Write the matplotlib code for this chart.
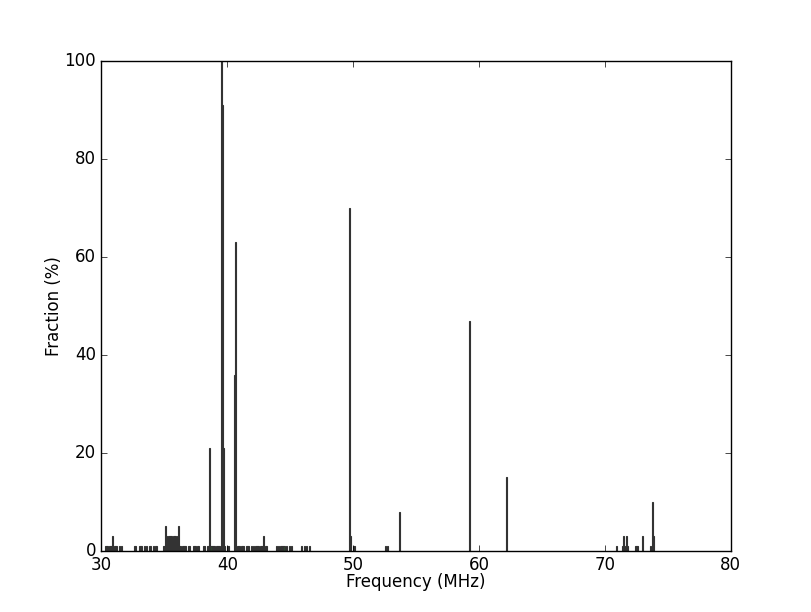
import matplotlib
matplotlib.use("Agg")
import matplotlib.pyplot as plt

# === Data ===
freqs = [
    30.3, 30.4, 30.5, 30.6, 30.7, 30.8, 30.9, 31.0, 31.1, 31.2, 31.4, 31.6,
    32.6, 32.7, 33.0, 33.1, 33.2, 33.4, 33.6, 33.8, 33.9, 34.1, 34.3, 34.4,
    34.9, 35.0, 35.1, 35.2, 35.3, 35.4, 35.5, 35.6, 35.7, 35.8, 35.9, 36.0,
    36.1, 36.2, 36.3,
    36.4, 36.5, 36.6, 36.7, 36.9, 37.0, 37.3, 37.4, 37.5, 37.6, 37.7, 38.1,
    38.2, 38.4, 38.5, 38.6,
    38.7, 38.8, 38.9, 39.0, 39.1, 39.2, 39.3, 39.4, 39.5, 39.6, 39.7,
    39.8, 40.0, 40.1, 40.6, 40.65,
    40.8, 40.9, 41.0, 41.1, 41.2, 41.3, 41.5, 41.6, 41.7, 41.9, 42.1, 42.2,
    42.3, 42.4, 42.5, 42.6, 42.7, 42.8, 42.9, 43.0, 43.1,
    43.9, 44.1, 44.2, 44.3, 44.4, 44.5, 44.7, 44.9, 45.1,
    45.9, 46.1, 46.3, 46.5,
    49.72, 49.82, 50.0, 50.1, 52.6, 52.7, 53.7,
    59.25, 62.2,
    70.9, 71.4, 71.5, 71.6, 71.7, 71.8, 72.4, 72.5, 72.6, 73.0,
    73.6, 73.75, 73.85,
]
fractions = [
    1, 1, 1, 1, 1, 1, 3, 1, 1, 1, 1, 1,
    1, 1, 1, 1, 1, 1, 1, 1, 1, 1, 1, 1,
    1, 1, 5, 3, 3, 3, 3, 3, 3, 3, 3, 3,
    5, 1, 1,
    1, 1, 1, 1, 1, 1, 1, 1, 1, 1, 1, 1,
    1, 1, 1, 21,
    1, 1, 1, 1, 1, 1, 1, 1, 100, 91, 21,
    1, 1, 1, 36, 63,
    1, 1, 1, 1, 1, 1, 1, 1, 1, 1, 1, 1,
    1, 1, 1, 1, 1, 1, 3, 1, 1,
    1, 1, 1, 1, 1, 1, 1, 1, 1,
    1, 1, 1, 1,
    70, 3, 1, 1, 1, 1, 8,
    47, 15,
    1, 1, 3, 1, 3, 1, 1, 1, 1, 3,
    1, 10, 3,
]

plt.style.use("classic")
fig = plt.figure(figsize=(8.12, 6.12), dpi=100, facecolor="white")
ax = fig.add_subplot(111)
fig.subplots_adjust(left=0.125, right=0.9, bottom=0.1, top=0.9)

ax.bar(freqs, fractions, width=0.08, align="center",
       facecolor="#2d4a2d", edgecolor="#333333", linewidth=0.8)

ax.set_xlim(30, 80)
ax.set_ylim(0, 100)
ax.set_xticks([30, 40, 50, 60, 70, 80])
ax.set_yticks([0, 20, 40, 60, 80, 100])
ax.set_xlabel("Frequency (MHz)", labelpad=-1)
ax.set_ylabel("Fraction (%)", labelpad=1)

fig.savefig("out.png", dpi=100, facecolor="white")
